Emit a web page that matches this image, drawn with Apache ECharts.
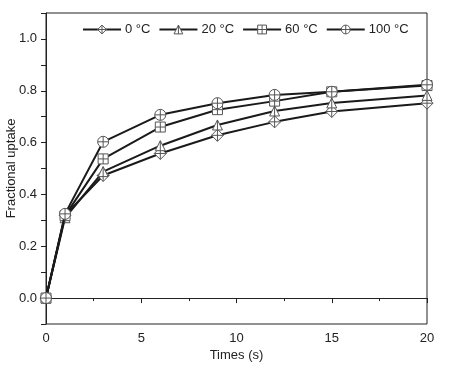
<!DOCTYPE html>
<html>
<head>
<meta charset="utf-8">
<script src="https://cdn.jsdelivr.net/npm/echarts@6/dist/echarts.min.js"></script>
<style>
  html, body { margin: 0; padding: 0; background: #fff; }
  #main { width: 454px; height: 371px; }
</style>
</head>
<body>
<div id="main"></div>
<script>
// data
var times = [0, 1, 3, 6, 9, 12, 15, 20];
var names = ['0 °C', '20 °C', '60 °C', '100 °C'];
var uptake0 = [0, 0.32, 0.473, 0.558, 0.628, 0.68, 0.72, 0.752];
var uptake20 = [0, 0.31, 0.488, 0.588, 0.668, 0.722, 0.753, 0.782];
var uptake60 = [0, 0.318, 0.537, 0.66, 0.727, 0.76, 0.796, 0.82];
var uptake100 = [0, 0.325, 0.603, 0.707, 0.752, 0.784, 0.796, 0.823];
var xTicks = [0, 5, 10, 15, 20];

var symbols = [
  'path://M5 0 L10 5 L5 10 L0 5 Z M5 0 L5 10 M0 5 L10 5',
  'path://M5 0 L10 10 L0 10 Z M5 0 L5 10',
  'path://M0 0 L10 0 L10 10 L0 10 Z M5 0 L5 10 M0 5 L10 5',
  'path://M0 5 A5 5 0 1 1 10 5 A5 5 0 1 1 0 5 Z M5 0 L5 10 M0 5 L10 5'
];
var symbolSizes = [12, 10, 10, 11];
var allData = [uptake0, uptake20, uptake60, uptake100];

function pairs(ys) {
  return times.map(function (t, i) { return [t, ys[i]]; });
}

var myChart = echarts.init(document.getElementById('main'));
var font = '"Liberation Sans", Arial, sans-serif';
var axisCol = '#222';

var series = names.map(function (n, k) {
  return {
    name: n,
    type: 'line',
    data: pairs(allData[k]),
    symbol: symbols[k],
    symbolSize: symbolSizes[k],
    showSymbol: true,
    lineStyle: { color: '#1a1a1a', width: 2 },
    itemStyle: { color: '#fff', borderColor: '#555', borderWidth: 1 },
    z: 2 + k
  };
});

var option = {
  animation: false,
  textStyle: { fontFamily: font },
  grid: { left: 46, right: 27, top: 13, bottom: 47, containLabel: false, outerBoundsMode: 'none' },
  legend: {
    data: names,
    left: 77,
    top: 18,
    itemWidth: 38,
    itemHeight: 11,
    itemGap: 8,
    itemStyle: { color: '#fff', borderColor: '#555', borderWidth: 1 },
    lineStyle: { color: '#1a1a1a', width: 2 },
    textStyle: { fontFamily: font, fontSize: 13, color: '#222', padding: [0, 0, 0, -1] }
  },
  xAxis: {
    type: 'value',
    min: 0,
    max: 20,
    interval: 5,
    name: 'Times (s)',
    nameLocation: 'middle',
    nameGap: 25,
    nameMoveOverlap: false,
    nameTextStyle: { fontSize: 13, color: '#222', fontFamily: font },
    axisLine: { show: true, lineStyle: { color: axisCol, width: 1 } },
    axisTick: { show: true, length: 5, lineStyle: { color: axisCol } },
    minorTick: { show: true, splitNumber: 2, length: 3, lineStyle: { color: axisCol } },
    axisLabel: {
      fontSize: 13, color: '#222', margin: 8,
      formatter: function (v) { return xTicks.indexOf(v) >= 0 ? String(v) : ''; }
    },
    splitLine: { show: false }
  },
  yAxis: {
    type: 'value',
    min: -0.1,
    max: 1.1,
    interval: 0.1,
    name: 'Fractional uptake',
    nameLocation: 'middle',
    nameGap: 28,
    nameMoveOverlap: false,
    nameTextStyle: { fontSize: 13, color: '#222', fontFamily: font },
    axisLine: { show: true, lineStyle: { color: axisCol, width: 1 } },
    axisTick: { show: true, length: 5, lineStyle: { color: axisCol } },
    axisLabel: {
      fontSize: 13, color: '#222', margin: 9,
      formatter: function (v) {
        var r = Math.round(v * 10);
        if (r < 0 || r > 10 || r % 2 !== 0) return '';
        return (r / 10).toFixed(1);
      }
    },
    splitLine: { show: false }
  },
  series: series
};

myChart.setOption(option);

// box: top and right border of the plot
var g = myChart.getModel().getComponent('grid').coordinateSystem.getRect();
myChart.setOption({
  graphic: [{
    type: 'rect',
    shape: { x: g.x, y: g.y, width: g.width, height: g.height },
    style: { fill: 'none', stroke: axisCol, lineWidth: 1 },
    silent: true,
    z: 0
  }]
});
</script>
</body>
</html>
